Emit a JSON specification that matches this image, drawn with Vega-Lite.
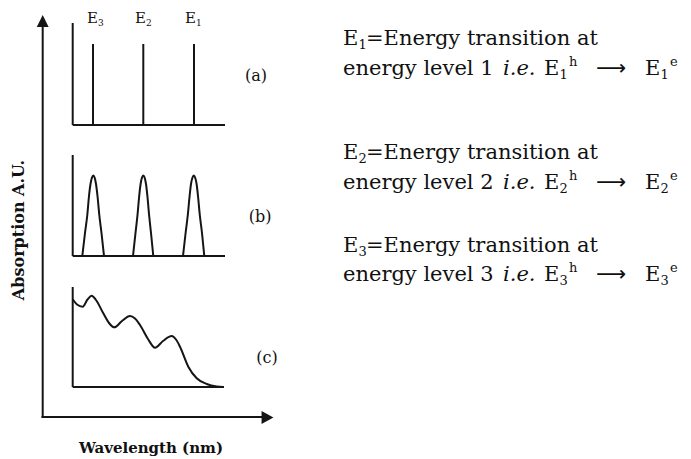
{
  "$schema": "https://vega.github.io/schema/vega-lite/v6.json",
  "width": 691,
  "height": 459,
  "padding": 0,
  "autosize": {"type": "none"},
  "background": "white",
  "config": {"view": {"stroke": null}},
  "datasets": {
    "segments": [
      {"x": 42.7, "y": 418, "x2": 42.7, "y2": 26},
      {"x": 41.5, "y": 417, "x2": 263, "y2": 417},
      {"x": 72.7, "y": 23, "x2": 72.7, "y2": 125},
      {"x": 72.7, "y": 125, "x2": 225, "y2": 125},
      {"x": 93, "y": 44, "x2": 93, "y2": 125},
      {"x": 143.3, "y": 44, "x2": 143.3, "y2": 125},
      {"x": 194, "y": 44, "x2": 194, "y2": 125},
      {"x": 72.7, "y": 155, "x2": 72.7, "y2": 256},
      {"x": 72.7, "y": 256, "x2": 225, "y2": 256},
      {"x": 72.7, "y": 287, "x2": 72.7, "y2": 387},
      {"x": 72.7, "y": 387, "x2": 224, "y2": 387}
    ],
    "arrowheads": [
      {"dir": "up", "x": 42.7, "y": 21},
      {"dir": "right", "x": 267.5, "y": 417.5}
    ],
    "bands": [
      {"peak": "E3", "x": 82.3, "y": 256}, {"peak": "E3", "x": 85, "y": 233}, {"peak": "E3", "x": 87.3, "y": 215},
      {"peak": "E3", "x": 89, "y": 196}, {"peak": "E3", "x": 90.5, "y": 184}, {"peak": "E3", "x": 92, "y": 177.5},
      {"peak": "E3", "x": 93.3, "y": 175.5}, {"peak": "E3", "x": 94.6, "y": 177.5}, {"peak": "E3", "x": 96, "y": 184},
      {"peak": "E3", "x": 97.5, "y": 196}, {"peak": "E3", "x": 99.3, "y": 215}, {"peak": "E3", "x": 101.5, "y": 233},
      {"peak": "E3", "x": 104, "y": 256},
      {"peak": "E2", "x": 133, "y": 256}, {"peak": "E2", "x": 135.5, "y": 233}, {"peak": "E2", "x": 137.5, "y": 215},
      {"peak": "E2", "x": 139.2, "y": 196}, {"peak": "E2", "x": 140.6, "y": 184}, {"peak": "E2", "x": 142, "y": 177.5},
      {"peak": "E2", "x": 143.3, "y": 175.5}, {"peak": "E2", "x": 144.6, "y": 177.5}, {"peak": "E2", "x": 146, "y": 184},
      {"peak": "E2", "x": 147.4, "y": 196}, {"peak": "E2", "x": 149.1, "y": 215}, {"peak": "E2", "x": 151, "y": 233},
      {"peak": "E2", "x": 153.3, "y": 256},
      {"peak": "E1", "x": 183, "y": 256}, {"peak": "E1", "x": 185.6, "y": 233}, {"peak": "E1", "x": 187.8, "y": 215},
      {"peak": "E1", "x": 189.6, "y": 196}, {"peak": "E1", "x": 191, "y": 184}, {"peak": "E1", "x": 192.5, "y": 177.5},
      {"peak": "E1", "x": 193.8, "y": 175.5}, {"peak": "E1", "x": 195.1, "y": 177.5}, {"peak": "E1", "x": 196.6, "y": 184},
      {"peak": "E1", "x": 198, "y": 196}, {"peak": "E1", "x": 199.8, "y": 215}, {"peak": "E1", "x": 202, "y": 233},
      {"peak": "E1", "x": 204.3, "y": 256}
    ],
    "broad": [
      {"x": 72.7, "y": 299.3}, {"x": 77, "y": 304.5}, {"x": 82.7, "y": 306.7}, {"x": 87.5, "y": 299.5},
      {"x": 91.7, "y": 295.7}, {"x": 96, "y": 300}, {"x": 103.3, "y": 313.3}, {"x": 109, "y": 323},
      {"x": 114.3, "y": 327.3}, {"x": 122, "y": 321}, {"x": 130, "y": 316}, {"x": 135, "y": 318.5},
      {"x": 140, "y": 325}, {"x": 148, "y": 339}, {"x": 155, "y": 347.7}, {"x": 163, "y": 341},
      {"x": 171.7, "y": 336}, {"x": 176, "y": 339.5}, {"x": 180, "y": 346.7}, {"x": 188.3, "y": 366.7},
      {"x": 196.7, "y": 378.3}, {"x": 206.7, "y": 384}, {"x": 216.7, "y": 386.5}, {"x": 223.3, "y": 387}
    ],
    "bodyText": [
      {"x": 343, "y": 45, "text": "E"},
      {"x": 366, "y": 45, "text": "=Energy transition at"},
      {"x": 343, "y": 75, "text": "energy level 1"},
      {"x": 544, "y": 75, "text": "E"},
      {"x": 645, "y": 75, "text": "E"},
      {"x": 343, "y": 159, "text": "E"},
      {"x": 366, "y": 159, "text": "=Energy transition at"},
      {"x": 343, "y": 189, "text": "energy level 2"},
      {"x": 544, "y": 189, "text": "E"},
      {"x": 645, "y": 189, "text": "E"},
      {"x": 343, "y": 252, "text": "E"},
      {"x": 366, "y": 252, "text": "=Energy transition at"},
      {"x": 343, "y": 281, "text": "energy level 3"},
      {"x": 544, "y": 281, "text": "E"},
      {"x": 645, "y": 281, "text": "E"}
    ],
    "bodySub": [
      {"x": 358.5, "y": 45, "text": "1"},
      {"x": 559.5, "y": 75, "text": "1"},
      {"x": 660.5, "y": 75, "text": "1"},
      {"x": 358.5, "y": 159, "text": "2"},
      {"x": 559.5, "y": 189, "text": "2"},
      {"x": 660.5, "y": 189, "text": "2"},
      {"x": 358.5, "y": 252, "text": "3"},
      {"x": 559.5, "y": 281, "text": "3"},
      {"x": 660.5, "y": 281, "text": "3"}
    ],
    "bodySup": [
      {"x": 569, "y": 75, "text": "h"},
      {"x": 670, "y": 75, "text": "e"},
      {"x": 569, "y": 189, "text": "h"},
      {"x": 670, "y": 189, "text": "e"},
      {"x": 569, "y": 281, "text": "h"},
      {"x": 670, "y": 281, "text": "e"}
    ],
    "arrows": [
      {"x": 596, "y": 75, "text": "⟶"},
      {"x": 596, "y": 189, "text": "⟶"},
      {"x": 596, "y": 281, "text": "⟶"}
    ],
    "italicText": [
      {"x": 503, "y": 75, "text": "i.e."},
      {"x": 503, "y": 189, "text": "i.e."},
      {"x": 503, "y": 281, "text": "i.e."}
    ],
    "levelTags": [
      {"x": 87, "y": 23.3, "text": "E"},
      {"x": 135, "y": 23.3, "text": "E"},
      {"x": 185, "y": 23.3, "text": "E"}
    ],
    "levelSub": [
      {"x": 98, "y": 23.3, "text": "3"},
      {"x": 146, "y": 23.3, "text": "2"},
      {"x": 196, "y": 23.3, "text": "1"}
    ],
    "panelTags": [
      {"x": 256, "y": 76, "text": "(a)"},
      {"x": 260, "y": 217, "text": "(b)"},
      {"x": 267, "y": 358, "text": "(c)"}
    ],
    "yTitle": [{"x": 19, "y": 230, "text": "Absorption A.U."}],
    "xTitle": [{"x": 151, "y": 448, "text": "Wavelength (nm)"}]
  },
  "encoding": {
    "x": {"field": "x", "type": "quantitative", "scale": {"domain": [0, 691], "nice": false, "zero": false}, "axis": null},
    "y": {"field": "y", "type": "quantitative", "scale": {"domain": [0, 459], "nice": false, "zero": false, "reverse": true}, "axis": null}
  },
  "layer": [
    {
      "data": {"name": "segments"},
      "mark": {"type": "rule", "strokeWidth": 2, "color": "#151515"},
      "encoding": {
        "x2": {"field": "x2"},
        "y2": {"field": "y2"}
      }
    },
    {
      "data": {"name": "arrowheads"},
      "mark": {"type": "point", "filled": true, "opacity": 1, "color": "#151515", "size": 140},
      "encoding": {
        "shape": {
          "field": "dir", "type": "nominal", "legend": null,
          "scale": {"domain": ["up", "right"], "range": ["M0,-1L1,1L-1,1Z", "M1,0L-1,-1.1L-1,1.1Z"]}
        }
      }
    },
    {
      "data": {"name": "bands"},
      "mark": {"type": "line", "strokeWidth": 2, "color": "#151515", "interpolate": "monotone"},
      "encoding": {"detail": {"field": "peak", "type": "nominal"}}
    },
    {
      "data": {"name": "broad"},
      "mark": {"type": "line", "strokeWidth": 2, "color": "#151515", "interpolate": "monotone"},
      "encoding": {}
    },
    {
      "data": {"name": "bodyText"},
      "mark": {"type": "text", "font": "DejaVu Serif", "fontSize": 21, "align": "left", "baseline": "alphabetic", "color": "#111"},
      "encoding": {"text": {"field": "text"}}
    },
    {
      "data": {"name": "bodySub"},
      "mark": {"type": "text", "font": "DejaVu Serif", "fontSize": 13, "dy": 4, "align": "left", "baseline": "alphabetic", "color": "#111"},
      "encoding": {"text": {"field": "text"}}
    },
    {
      "data": {"name": "bodySup"},
      "mark": {"type": "text", "font": "DejaVu Serif", "fontSize": 13, "dy": -9, "align": "left", "baseline": "alphabetic", "color": "#111"},
      "encoding": {"text": {"field": "text"}}
    },
    {
      "data": {"name": "arrows"},
      "mark": {"type": "text", "font": "DejaVu Sans", "fontSize": 21, "align": "left", "baseline": "alphabetic", "color": "#111"},
      "encoding": {"text": {"field": "text"}}
    },
    {
      "data": {"name": "italicText"},
      "mark": {"type": "text", "font": "DejaVu Serif", "fontStyle": "italic", "fontSize": 21, "align": "left", "baseline": "alphabetic", "color": "#111"},
      "encoding": {"text": {"field": "text"}}
    },
    {
      "data": {"name": "levelTags"},
      "mark": {"type": "text", "font": "DejaVu Serif", "fontSize": 15, "align": "left", "baseline": "alphabetic", "color": "#111"},
      "encoding": {"text": {"field": "text"}}
    },
    {
      "data": {"name": "levelSub"},
      "mark": {"type": "text", "font": "DejaVu Serif", "fontSize": 9, "dy": 3, "align": "left", "baseline": "alphabetic", "color": "#111"},
      "encoding": {"text": {"field": "text"}}
    },
    {
      "data": {"name": "panelTags"},
      "mark": {"type": "text", "font": "DejaVu Serif", "fontSize": 16, "align": "center", "baseline": "middle", "color": "#111"},
      "encoding": {"text": {"field": "text"}}
    },
    {
      "data": {"name": "yTitle"},
      "mark": {"type": "text", "font": "DejaVu Serif", "fontWeight": "bold", "fontSize": 16, "angle": 270, "align": "center", "baseline": "middle", "color": "#111"},
      "encoding": {"text": {"field": "text"}}
    },
    {
      "data": {"name": "xTitle"},
      "mark": {"type": "text", "font": "DejaVu Serif", "fontWeight": "bold", "fontSize": 15, "align": "center", "baseline": "middle", "color": "#111"},
      "encoding": {"text": {"field": "text"}}
    }
  ]
}
